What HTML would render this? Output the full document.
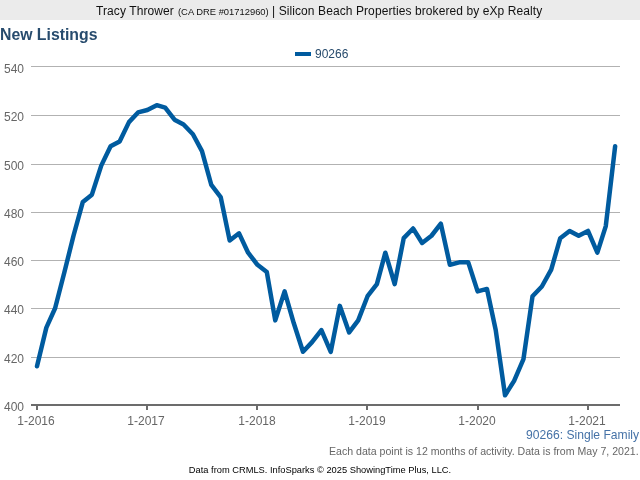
<!DOCTYPE html>
<html><head><meta charset="utf-8"><style>
html,body{margin:0;padding:0;background:#fff;}
body{width:640px;height:480px;position:relative;overflow:hidden;font-family:"Liberation Sans",sans-serif;}
.hdr{position:absolute;left:0;top:0;width:640px;height:20px;background:#ebebeb;font-size:12px;line-height:22px;color:#111;white-space:nowrap;overflow:hidden;}
.hdr span{position:absolute;top:0;} .hdr .sm{font-size:9.4px;top:1px;}
.title{position:absolute;left:0px;top:25.4px;font-size:15.8px;font-weight:bold;color:#274b6d;line-height:20px;white-space:nowrap;}
.yl{position:absolute;left:0;width:24px;text-align:right;font-size:12px;line-height:14px;color:#666;}
.xl{position:absolute;top:414px;width:60px;text-align:center;font-size:12px;line-height:14px;color:#666;}
.leg{position:absolute;left:315px;top:47px;font-size:12px;line-height:14px;color:#274b6d;}
.sf{position:absolute;right:1px;top:428px;font-size:12.12px;line-height:14px;color:#4572a7;white-space:nowrap;}
.note{position:absolute;right:1.1px;top:444px;font-size:10.58px;line-height:14px;color:#666;white-space:nowrap;}
.foot{position:absolute;left:0;width:640px;top:464px;text-align:center;font-size:9.3px;line-height:12px;color:#000;white-space:nowrap;}
svg{position:absolute;left:0;top:0;}
.hdr span,.title,.yl,.xl,.leg,.sf,.note,.foot{will-change:transform;}
</style></head><body>
<div class="hdr"><span style="left:96px;letter-spacing:0.09px">Tracy Thrower</span><span class="sm" style="left:177.8px">(CA DRE #01712960)</span><span style="left:272.3px;letter-spacing:0.09px">| Silicon Beach Properties brokered by eXp Realty</span></div>
<div class="title">New Listings</div>
<svg width="640" height="480" viewBox="0 0 640 480">
<line x1="31" x2="620" y1="66.5" y2="66.5" stroke="#b2b2b2" stroke-width="1"/>
<line x1="31" x2="620" y1="115.5" y2="115.5" stroke="#b2b2b2" stroke-width="1"/>
<line x1="31" x2="620" y1="164.5" y2="164.5" stroke="#b2b2b2" stroke-width="1"/>
<line x1="31" x2="620" y1="212.5" y2="212.5" stroke="#b2b2b2" stroke-width="1"/>
<line x1="31" x2="620" y1="260.5" y2="260.5" stroke="#b2b2b2" stroke-width="1"/>
<line x1="31" x2="620" y1="308.5" y2="308.5" stroke="#b2b2b2" stroke-width="1"/>
<line x1="31" x2="620" y1="357.5" y2="357.5" stroke="#b2b2b2" stroke-width="1"/>
<line x1="31" x2="620" y1="405" y2="405" stroke="#6c6c6c" stroke-width="2"/>
<line x1="37.0" x2="37.0" y1="404" y2="410" stroke="#6c6c6c" stroke-width="2"/>
<line x1="147.0" x2="147.0" y1="404" y2="410" stroke="#6c6c6c" stroke-width="2"/>
<line x1="257.0" x2="257.0" y1="404" y2="410" stroke="#6c6c6c" stroke-width="2"/>
<line x1="367.0" x2="367.0" y1="404" y2="410" stroke="#6c6c6c" stroke-width="2"/>
<line x1="478.0" x2="478.0" y1="404" y2="410" stroke="#6c6c6c" stroke-width="2"/>
<line x1="588.0" x2="588.0" y1="404" y2="410" stroke="#6c6c6c" stroke-width="2"/>
<rect x="295" y="52" width="16" height="4" fill="#005b9f"/>
<polyline points="37.00,366.31 46.35,327.63 55.10,308.29 64.44,272.02 73.49,235.75 82.84,201.90 91.89,194.65 101.24,165.63 110.59,146.29 119.63,141.45 128.98,122.11 138.03,112.44 147.38,110.02 156.73,105.19 165.17,107.60 174.52,119.69 183.57,124.53 192.92,134.20 201.97,151.13 211.32,184.98 220.67,197.06 229.71,240.59 239.06,233.33 248.11,252.68 257.46,264.76 266.81,272.02 275.25,320.38 284.60,291.36 293.65,322.79 303.00,351.81 312.05,342.14 321.40,330.05 330.75,351.81 339.79,305.87 349.14,332.46 358.19,320.38 367.54,296.20 376.89,284.11 385.33,252.68 394.68,284.11 403.73,238.17 413.08,228.50 422.13,243.00 431.48,235.75 440.83,223.66 449.87,264.76 459.22,262.35 468.27,262.35 477.62,291.36 486.97,288.94 495.71,330.05 505.06,395.33 514.11,380.82 523.46,359.06 532.51,296.20 541.86,286.52 551.21,269.60 560.25,238.17 569.60,230.91 578.65,235.75 588.00,230.91 597.35,252.68 605.79,226.08 615.14,146.29" fill="none" stroke="#005b9f" stroke-width="4.5" stroke-linejoin="round" stroke-linecap="round"/>
</svg>
<div class="yl" style="top:62px">540</div>
<div class="yl" style="top:110px">520</div>
<div class="yl" style="top:159px">500</div>
<div class="yl" style="top:207px">480</div>
<div class="yl" style="top:255px">460</div>
<div class="yl" style="top:303px">440</div>
<div class="yl" style="top:352px">420</div>
<div class="yl" style="top:400px">400</div>
<div class="xl" style="left:6.0px">1-2016</div>
<div class="xl" style="left:116.4px">1-2017</div>
<div class="xl" style="left:227.0px">1-2018</div>
<div class="xl" style="left:336.8px">1-2019</div>
<div class="xl" style="left:447.0px">1-2020</div>
<div class="xl" style="left:557.1px">1-2021</div>
<div class="leg">90266</div>
<div class="sf">90266: Single Family</div>
<div class="note">Each data point is 12 months of activity. Data is from May 7, 2021.</div>
<div class="foot">Data from CRMLS. InfoSparks © 2025 ShowingTime Plus, LLC.</div>
</body></html>
